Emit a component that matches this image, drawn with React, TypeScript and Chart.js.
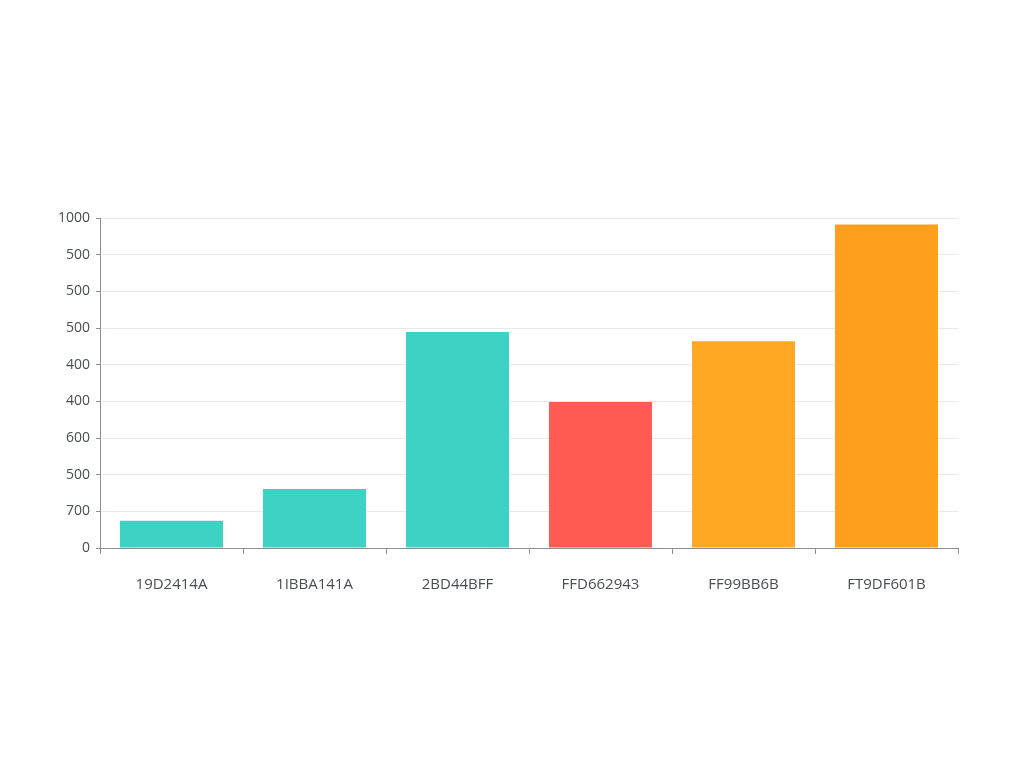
import React, { useEffect, useRef } from "react";
import { Chart, registerables } from "chart.js";

Chart.register(...registerables);

const categories = ["19D2414A", "1IBBA141A", "2BD44BFF", "FFD662943", "FF99BB6B", "FT9DF601B"];
const values = [74, 161, 589, 398, 564, 882];
const barColors = ["#3DD2C3", "#3DD2C3", "#3DD2C3", "#FF5B52", "#FFA824", "#FF9F1E"];
const yTickLabels = ["0", "700", "500", "600", "400", "400", "500", "500", "500", "1000"];

export default function App() {
  const ref = useRef<HTMLCanvasElement | null>(null);

  useEffect(() => {
    if (!ref.current) return;
    const chart = new Chart(ref.current, {
      type: "bar",
      data: {
        labels: categories,
        datasets: [
          {
            data: values,
            backgroundColor: barColors,
            borderWidth: 0,
            barPercentage: 0.72,
            categoryPercentage: 1,
          },
        ],
      },
      options: {
        animation: false,
        responsive: false,
        maintainAspectRatio: false,
        layout: { padding: { left: 20, right: 66, top: 218, bottom: 150 } },
        plugins: { legend: { display: false }, tooltip: { enabled: false } },
        scales: {
          x: {
            grid: {
              display: true,
              drawOnChartArea: false,
              drawTicks: true,
              tickLength: 6,
              tickColor: "#8a8d93",
            },
            border: { display: true, color: "#8a8d93", width: 1 },
            ticks: {
              color: "#4a4d55",
              font: { family: "'Open Sans', sans-serif", size: 15 },
              padding: 22,
              maxRotation: 0,
            },
            afterFit: (scale: any) => {
              scale.height = 70;
            },
          },
          y: {
            min: 0,
            max: 900,
            grid: {
              color: (ctx: any) => (ctx.index === 0 ? "transparent" : "#E7E9EE"),
              tickColor: "#8a8d93",
              tickLength: 4,
            },
            border: { display: true, color: "#8a8d93", width: 1 },
            ticks: {
              stepSize: 100,
              color: "#4a4d55",
              font: { family: "'Open Sans', sans-serif", size: 14 },
              padding: 6,
              callback: (_v: any, i: number) => yTickLabels[i] ?? "",
            },
            afterFit: (scale: any) => {
              scale.width = 80;
            },
          },
        },
      },
    });
    return () => chart.destroy();
  }, []);

  return (
    <div style={{ position: "absolute", left: 0, top: 0, width: 1024, height: 768, background: "#fff" }}>
      <canvas ref={ref} width={1024} height={768} />
    </div>
  );
}
